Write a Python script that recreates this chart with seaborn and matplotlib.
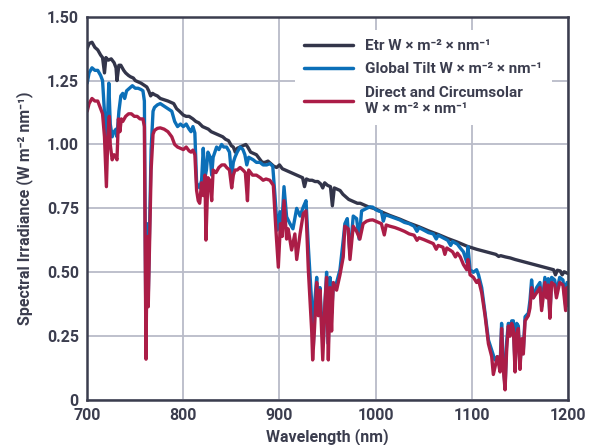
import numpy as np
import pandas as pd
import matplotlib
matplotlib.use("Agg")
import matplotlib.pyplot as plt
import seaborn as sns
from matplotlib.lines import Line2D

# ---------------- data ----------------
etr_nm = [700, 702, 705, 708, 711, 714, 716, 718, 719.5, 722, 725, 728, 730, 731, 733, 735, 738, 740,
          743, 745, 748, 750, 753, 756, 758, 760, 762, 764, 766, 768, 770, 773, 776, 780, 784, 787, 790,
          793, 796, 800, 803, 806, 810, 813, 816, 820, 823, 826, 829, 832, 835, 838, 841, 844, 847, 850,
          852, 854, 856, 859, 862, 865, 867, 870, 873, 876, 879, 882, 885, 888, 891, 894, 897, 900, 903,
          906, 909, 912, 915, 918, 921, 924, 926, 928, 931, 934, 937, 940, 943, 945, 947, 950, 953, 955,
          957, 960, 963, 966, 969, 972, 975, 978, 981, 984, 987, 990, 993, 996, 1000, 1005, 1010, 1015,
          1020, 1025, 1030, 1035, 1040, 1045, 1050, 1055, 1060, 1065, 1070, 1075, 1080, 1085, 1090, 1095,
          1100, 1105, 1110, 1115, 1120, 1125, 1128, 1130, 1135, 1140, 1145, 1150, 1155, 1160, 1165, 1170,
          1175, 1180, 1185, 1187, 1189, 1192, 1194, 1196, 1200]
etr_val = [1.375, 1.395, 1.40, 1.38, 1.37, 1.35, 1.34, 1.28, 1.34, 1.33, 1.335, 1.32, 1.30, 1.25, 1.31,
           1.31, 1.29, 1.28, 1.27, 1.265, 1.26, 1.25, 1.245, 1.24, 1.235, 1.23, 1.225, 1.21, 1.19, 1.20,
           1.195, 1.19, 1.18, 1.175, 1.17, 1.165, 1.16, 1.14, 1.13, 1.115, 1.11, 1.11, 1.10, 1.09, 1.085,
           1.07, 1.065, 1.06, 1.05, 1.045, 1.04, 1.035, 1.03, 1.02, 1.015, 0.995, 0.99, 0.97, 0.985, 0.99,
           0.995, 1.00, 0.99, 0.97, 0.965, 0.96, 0.945, 0.93, 0.93, 0.935, 0.925, 0.915, 0.91, 0.92, 0.905,
           0.90, 0.895, 0.89, 0.885, 0.88, 0.875, 0.87, 0.835, 0.865, 0.86, 0.86, 0.855, 0.855, 0.845, 0.83,
           0.85, 0.84, 0.835, 0.76, 0.83, 0.825, 0.82, 0.805, 0.795, 0.785, 0.78, 0.775, 0.77, 0.77, 0.765,
           0.76, 0.755, 0.752, 0.748, 0.738, 0.73, 0.722, 0.715, 0.708, 0.70, 0.692, 0.685, 0.678, 0.67,
           0.662, 0.655, 0.648, 0.64, 0.632, 0.625, 0.618, 0.61, 0.602, 0.596, 0.59, 0.585, 0.58, 0.575,
           0.57, 0.562, 0.565, 0.56, 0.556, 0.55, 0.545, 0.54, 0.535, 0.53, 0.525, 0.52, 0.515, 0.51, 0.49,
           0.508, 0.505, 0.49, 0.502, 0.495]

glob_nm = [700, 702, 705, 708, 711, 714, 716, 718, 719.5, 721, 722.5, 724, 726, 728, 730, 731, 733, 735,
           737, 739, 741, 744, 747, 750, 753, 756, 758, 759.5, 760.5, 761.2, 762.3, 763.5, 765, 766.5,
           768.5, 770, 773, 776, 780, 784, 788, 791, 794, 797, 800, 803, 806, 808, 810, 812, 813.8, 817,
           819, 820.7, 822.5, 824, 825.6, 828, 829.5, 831, 834.6, 837, 839.8, 842, 845, 848, 850.3, 852,
           853.7, 856, 859, 862, 864, 866, 868, 872.7, 876, 879.7, 883, 886.7, 890, 893, 895.3, 897.7,
           900.5, 902.5, 904.7, 907.4, 910.9, 914, 917.9, 921.4, 924.8, 927.6, 930, 933.5, 935.2, 937,
           938.7, 940.4, 942.1, 944, 945.6, 947.3, 949, 950.8, 952.5, 954.2, 956, 959.4, 962.9, 966.3,
           968, 970.5, 973.3, 976.7, 980.2, 982.8, 985.4, 990.6, 994, 997, 1000, 1003, 1006, 1008, 1010,
           1014, 1020, 1025, 1030, 1035, 1040, 1043, 1045, 1050, 1055, 1060, 1063, 1065, 1070, 1075, 1078,
           1080, 1085, 1088, 1091.3, 1094.7, 1096, 1098.2, 1101.7, 1105, 1107, 1110.3, 1113.8, 1117.3,
           1120.7, 1124, 1126.6, 1129.4, 1131, 1132.8, 1134.6, 1136.3, 1138, 1139.8, 1141.5, 1143.2, 1145,
           1146.7, 1148.4, 1150.1, 1151.9, 1153.6, 1155.4, 1158.8, 1160.5, 1162.2, 1164, 1167.4, 1170.9,
           1172.6, 1176, 1177.8, 1179.5, 1181.2, 1183, 1186.2, 1188, 1191.4, 1194.8, 1197.6, 1199, 1200]
glob_val = [1.24, 1.28, 1.30, 1.29, 1.29, 1.27, 1.25, 1.12, 1.03, 1.08, 1.24, 1.08, 1.03, 1.05, 1.06, 1.03,
            1.13, 1.19, 1.20, 1.18, 1.21, 1.22, 1.23, 1.22, 1.22, 1.215, 1.21, 1.17, 0.60, 0.19, 0.69, 0.40,
            0.69, 0.98, 1.13, 1.145, 1.155, 1.16, 1.15, 1.14, 1.13, 1.09, 1.07, 1.08, 1.07, 1.08, 1.06, 1.05,
            1.07, 1.045, 0.85, 0.83, 0.86, 0.985, 0.87, 0.90, 0.97, 0.95, 0.88, 0.95, 0.99, 0.98, 1.00, 0.99,
            0.99, 0.97, 0.874, 0.93, 0.95, 0.97, 0.99, 0.98, 0.96, 0.92, 0.95, 0.94, 0.93, 0.93, 0.92, 0.92,
            0.925, 0.915, 0.80, 0.665, 0.737, 0.69, 0.835, 0.717, 0.69, 0.67, 0.75, 0.72, 0.756, 0.78, 0.60,
            0.38, 0.21, 0.40, 0.48, 0.36, 0.44, 0.30, 0.22, 0.38, 0.50, 0.22, 0.48, 0.34, 0.45, 0.46, 0.51,
            0.626, 0.69, 0.71, 0.57, 0.72, 0.71, 0.63, 0.74, 0.75, 0.756, 0.755, 0.745, 0.74, 0.737, 0.70,
            0.725, 0.72, 0.712, 0.705, 0.695, 0.69, 0.68, 0.66, 0.675, 0.665, 0.655, 0.65, 0.63, 0.645, 0.635,
            0.625, 0.605, 0.62, 0.61, 0.595, 0.58, 0.54, 0.60, 0.51, 0.50, 0.51, 0.49, 0.44, 0.34, 0.235,
            0.196, 0.157, 0.17, 0.13, 0.30, 0.14, 0.05, 0.23, 0.30, 0.28, 0.31, 0.31, 0.13, 0.30, 0.29, 0.14,
            0.23, 0.196, 0.326, 0.34, 0.39, 0.47, 0.40, 0.44, 0.46, 0.365, 0.48, 0.41, 0.475, 0.33, 0.48,
            0.47, 0.42, 0.48, 0.47, 0.37, 0.46, 0.45]

dir_nm = [700, 702, 705, 708, 711, 714, 716, 718, 720, 721.5, 723, 724, 726, 728, 730, 731, 732.5, 734,
          735.5, 737, 740, 743, 746, 749, 752, 755, 758, 759.5, 760.3, 761.2, 762.3, 763.5, 765, 766.5,
          768.5, 770, 773, 776, 780, 784, 788, 791, 794, 797, 800, 803, 806, 808, 810, 812, 813.8, 815.5,
          817, 819, 820.7, 822.5, 823.5, 825.6, 827.5, 829.5, 831, 834, 837, 840, 843, 845, 848, 850.3,
          852, 853.7, 856, 859, 862, 864.5, 866.7, 868, 872, 876, 880, 883, 886, 890, 893.6, 896.3, 898.8,
          901, 902.8, 904.7, 907.4, 909, 912.6, 916, 917.9, 921.4, 924.8, 927.6, 930, 933.5, 934.5, 936.3,
          938.7, 940.4, 942.1, 945, 947.3, 949, 950.8, 952.5, 954.2, 956, 959.4, 962.9, 966.3, 968, 971.5,
          973.3, 976.7, 980.2, 983.6, 987, 990.6, 994, 997, 1000, 1003, 1006, 1009, 1011, 1015, 1020, 1025,
          1030, 1035, 1040, 1043, 1045, 1050, 1055, 1060, 1063, 1065, 1070, 1072, 1074, 1080, 1083, 1085,
          1088, 1091.3, 1094.7, 1096, 1098.2, 1101.7, 1105, 1107, 1110.3, 1113.8, 1117.3, 1120.7, 1122.4,
          1126.6, 1129.4, 1131, 1132.8, 1134.6, 1136.3, 1138, 1139.8, 1141.5, 1143.2, 1145, 1146.7, 1148.4,
          1150.1, 1151.9, 1153.6, 1155.4, 1158.8, 1160.5, 1162.2, 1164, 1167.4, 1170.9, 1172.6, 1176,
          1177.8, 1179.5, 1181.2, 1183, 1186.2, 1188, 1191.4, 1194.8, 1197.6, 1199, 1200]
dir_val = [1.13, 1.16, 1.18, 1.17, 1.17, 1.14, 1.12, 1.03, 0.835, 1.03, 1.11, 1.00, 0.94, 0.96, 0.95, 0.94,
           1.10, 1.05, 1.10, 1.09, 1.11, 1.12, 1.12, 1.11, 1.11, 1.10, 1.10, 1.07, 0.60, 0.16, 0.64, 0.365,
           0.64, 0.90, 1.04, 1.055, 1.063, 1.065, 1.06, 1.05, 1.03, 1.00, 0.99, 0.985, 0.98, 0.99, 0.975,
           0.97, 0.978, 0.96, 0.82, 0.78, 0.77, 0.85, 0.80, 0.88, 0.626, 0.87, 0.86, 0.78, 0.90, 0.89, 0.91,
           0.92, 0.92, 0.91, 0.90, 0.83, 0.88, 0.90, 0.90, 0.91, 0.90, 0.89, 0.78, 0.90, 0.88, 0.88, 0.87,
           0.86, 0.865, 0.86, 0.84, 0.665, 0.52, 0.69, 0.64, 0.78, 0.63, 0.67, 0.587, 0.65, 0.55, 0.65, 0.73,
           0.74, 0.51, 0.27, 0.157, 0.27, 0.46, 0.33, 0.43, 0.157, 0.38, 0.48, 0.157, 0.44, 0.27, 0.46, 0.43,
           0.49, 0.56, 0.68, 0.67, 0.55, 0.68, 0.66, 0.63, 0.69, 0.70, 0.704, 0.705, 0.70, 0.695, 0.69,
           0.646, 0.685, 0.68, 0.675, 0.668, 0.66, 0.65, 0.645, 0.625, 0.635, 0.628, 0.62, 0.612, 0.59,
           0.605, 0.598, 0.57, 0.595, 0.58, 0.56, 0.575, 0.56, 0.53, 0.51, 0.55, 0.49, 0.48, 0.46, 0.47,
           0.42, 0.33, 0.22, 0.17, 0.10, 0.17, 0.11, 0.28, 0.12, 0.04, 0.20, 0.29, 0.25, 0.30, 0.28, 0.11,
           0.26, 0.28, 0.12, 0.24, 0.18, 0.31, 0.33, 0.36, 0.44, 0.40, 0.42, 0.44, 0.35, 0.46, 0.40, 0.45,
           0.32, 0.46, 0.45, 0.40, 0.46, 0.45, 0.35, 0.44, 0.37]

series_labels = ["Etr W × m⁻² × nm⁻¹",
                 "Global Tilt W × m⁻² × nm⁻¹",
                 "Direct and Circumsolar\nW × m⁻² × nm⁻¹"]
series_colors = ["#33354a", "#0b6fb8", "#ab1d47"]
y_ticks = [0, 0.25, 0.5, 0.75, 1.0, 1.25, 1.5]
y_tick_labels = ["0", "0.25", "0.50", "0.75", "1.00", "1.25", "1.50"]
x_ticks = [700, 800, 900, 1000, 1100, 1200]

# ---------------- build long-form table ----------------
df = pd.concat([
    pd.DataFrame({"nm": etr_nm, "val": etr_val, "s": series_labels[0]}),
    pd.DataFrame({"nm": glob_nm, "val": glob_val, "s": series_labels[1]}),
    pd.DataFrame({"nm": dir_nm, "val": dir_val, "s": series_labels[2]}),
], ignore_index=True)

sns.set_theme(style="white")
plt.rcParams["font.family"] = ["Roboto", "DejaVu Sans"]
plt.rcParams["font.weight"] = "bold"
TXT = "#3b3d4e"

fig = plt.figure(figsize=(5.91, 4.45), dpi=100)
ax = fig.add_axes([0.1475, 0.101, 0.8135, 0.8615])

sns.lineplot(data=df, x="nm", y="val", hue="s", hue_order=series_labels,
             palette=dict(zip(series_labels, series_colors)), estimator=None,
             sort=False, linewidth=2.4, ax=ax, legend=False)

ax.set_xlim(700, 1200)
ax.set_ylim(0, 1.5)
ax.set_xticks(x_ticks)
ax.set_xticklabels([str(t) for t in x_ticks])
ax.set_yticks(y_ticks)
ax.set_yticklabels(y_tick_labels)
ax.grid(True, color="#b9bbc8", linewidth=1.3)
ax.set_axisbelow(True)
for sp in ax.spines.values():
    sp.set_color(TXT)
    sp.set_linewidth(1.8)
ax.tick_params(axis="both", labelsize=11.5, colors=TXT, length=0)
ax.tick_params(axis="x", pad=6)
ax.tick_params(axis="y", pad=6)
for lab in ax.get_xticklabels() + ax.get_yticklabels():
    lab.set_fontweight("bold")

ax.set_xlabel("Wavelength (nm)", fontsize=11.5, fontweight="bold", color=TXT)
ax.xaxis.set_label_coords(0.5, -0.072)
ax.set_ylabel("Spectral Irradiance (W m⁻² nm⁻¹)", fontsize=11.5, fontweight="bold", color=TXT, labelpad=10)

handles = [Line2D([0], [0], color=c, lw=2.5) for c in series_colors]
leg = ax.legend(handles, series_labels, loc="upper right", bbox_to_anchor=(0.982, 0.985),
                frameon=True, framealpha=1, facecolor="white", edgecolor="none",
                handlelength=3.2, handletextpad=0.8, labelspacing=0.6, borderpad=0.6,
                prop={"size": 11, "weight": "bold"})
for t in leg.get_texts():
    t.set_color(TXT)
leg.get_frame().set_linewidth(0)

fig.savefig("out.png", dpi=100)
